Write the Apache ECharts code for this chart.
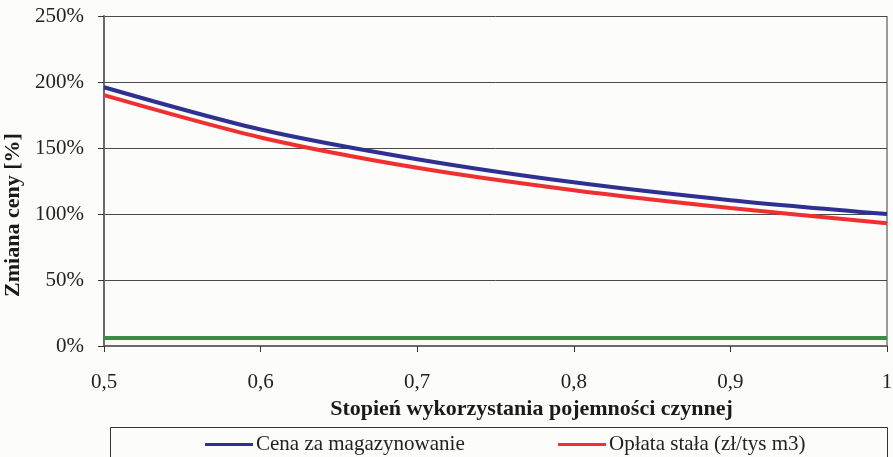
<!DOCTYPE html>
<html>
<head>
<meta charset="utf-8">
<script src="https://cdn.jsdelivr.net/npm/echarts@6/dist/echarts.min.js"></script>
<style>
    html, body { margin: 0; padding: 0; background: #fcfcfa; }
    #chart { width: 893px; height: 457px; }
</style>
</head>
<body>
<div id="chart"></div>
<script>
// stopień wykorzystania pojemności
const xValues = [0.5, 0.6, 0.7, 0.8, 0.9, 1.0];
// zmiana ceny w %
const cenaMagazynowanie = [196, 164, 141.5, 124, 110.5, 100];
const oplataStala = [190, 158, 135, 118, 104.5, 93];
const oplataZmienna = [6, 6, 6, 6, 6, 6];

const seriesNames = ['Cena za magazynowanie', 'Opłata stała (zł/tys m3)', 'Opłata zmienna'];

const pairs = (vals) => xValues.map((x, i) => [x, vals[i]]);

const chart = echarts.init(document.getElementById('chart'));

const legendCommon = {
    top: 429,
    icon: 'rect',
    itemWidth: 48,
    itemHeight: 3,
    itemGap: 4,
    textStyle: { fontFamily: 'Liberation Serif', fontSize: 21, color: '#222', padding: [0, 0, 0, -2] }
};

const option = {
    backgroundColor: '#fcfcfa',
    animation: false,
    grid: { left: 104, right: 6, top: 16, bottom: 111, outerBoundsMode: 'none' },
    xAxis: {
        type: 'value',
        min: 0.5,
        max: 1,
        interval: 0.1,
        name: 'Stopień wykorzystania pojemności czynnej',
        nameLocation: 'middle',
        nameGap: 51,
        nameTextStyle: {
            fontFamily: 'Liberation Serif', fontSize: 22, fontWeight: 'bold', color: '#1a1a1a',
            padding: [0, 0, 0, 72]
        },
        axisLine: { lineStyle: { color: '#6a6a6a', width: 2 } },
        axisTick: { show: true, length: 6, lineStyle: { color: '#333' } },
        axisLabel: {
            margin: 26,
            fontFamily: 'Liberation Serif', fontSize: 21, color: '#222',
            formatter: v => String(Math.round(v * 10) / 10).replace('.', ',')
        },
        splitLine: { show: false }
    },
    yAxis: {
        type: 'value',
        min: 0,
        max: 250,
        interval: 50,
        name: 'Zmiana ceny [%]',
        nameLocation: 'middle',
        nameGap: 72,
        nameTextStyle: {
            fontFamily: 'Liberation Serif', fontSize: 22, fontWeight: 'bold', color: '#1a1a1a',
            padding: [0, 68, 0, 0]
        },
        axisLine: { show: true, lineStyle: { color: '#6a6a6a', width: 2 } },
        axisTick: { show: true, length: 6, lineStyle: { color: '#333' } },
        axisLabel: {
            margin: 20,
            fontFamily: 'Liberation Serif', fontSize: 21, color: '#222',
            formatter: '{value}%'
        },
        splitLine: { show: true, lineStyle: { color: '#4a4a4a', width: 1 } }
    },
    legend: [
        Object.assign({ left: 200, data: [seriesNames[0]] }, legendCommon),
        Object.assign({ left: 553, data: [seriesNames[1]] }, legendCommon)
    ],
    graphic: [{
        type: 'rect',
        shape: { x: 110.5, y: 427.5, width: 777, height: 40 },
        style: { fill: 'none', stroke: '#333', lineWidth: 1 },
        silent: true
    }, {
        type: 'line',
        shape: { x1: 887, y1: 16, x2: 887, y2: 346 },
        style: { stroke: '#9a9a9a', lineWidth: 2 },
        silent: true
    }],
    series: [
        {
            name: seriesNames[0], type: 'line', data: pairs(cenaMagazynowanie),
            smooth: 0.3, showSymbol: false,
            itemStyle: { color: '#2e3192' },
            lineStyle: { color: '#2e3192', width: 4 }
        },
        {
            name: seriesNames[1], type: 'line', data: pairs(oplataStala),
            smooth: 0.3, showSymbol: false,
            itemStyle: { color: '#f03030' },
            lineStyle: { color: '#f03030', width: 4 }
        },
        {
            name: seriesNames[2], type: 'line', data: pairs(oplataZmienna),
            showSymbol: false,
            itemStyle: { color: '#3a8d42' },
            lineStyle: { color: '#3a8d42', width: 4 }
        }
    ]
};

chart.setOption(option);
</script>
</body>
</html>
